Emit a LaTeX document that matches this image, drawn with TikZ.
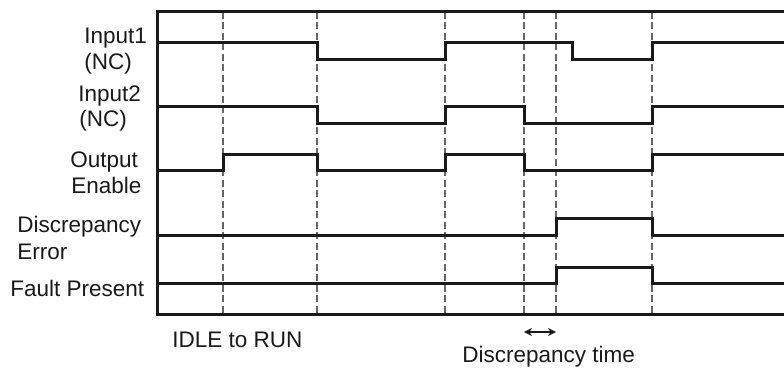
\documentclass[tikz,border=0pt]{standalone}
\usepackage{fontspec}
\setmainfont{Liberation Sans}
\usetikzlibrary{arrows.meta}
\begin{document}
\begin{tikzpicture}[x=0.5pt,y=-0.5pt,
  sig/.style={line width=1.5pt,draw=black!90},
  gridline/.style={line width=0.55pt,draw=black!60,dash pattern=on 3.5pt off 1.75pt},
  lbl/.style={anchor=base west,inner sep=0pt,text=black!90,font=\fontsize{11.25}{13}\selectfont}]
\useasboundingbox (0,0) rectangle (784,368);
% dashed time markers
\foreach \x/\n in {223/a,317/b,445/c,524/d,556/e,652/f}{
  \coordinate (t\n top) at (\x,12);
  \coordinate (t\n bot) at (\x,315);
  \draw[gridline] (t\n top) -- (t\n bot);
}
% frame
\draw[sig] (784,12) -- (157,12) -- (157,315) -- (784,315);
% Input1
\draw[sig] (157,43) -- (317,43) -- (317,60) -- (445,60) -- (445,43) -- (572,43) -- (572,60) -- (652,60) -- (652,43) -- (784,43);
% Input2
\draw[sig] (157,107) -- (317,107) -- (317,124) -- (445,124) -- (445,107) -- (524,107) -- (524,124) -- (652,124) -- (652,107) -- (784,107);
% Output Enable
\draw[sig] (157,171) -- (223,171) -- (223,155) -- (317,155) -- (317,171) -- (445,171) -- (445,155) -- (524,155) -- (524,171) -- (652,171) -- (652,155) -- (784,155);
% Discrepancy Error
\draw[sig] (157,236) -- (556,236) -- (556,219) -- (652,219) -- (652,236) -- (784,236);
% Fault Present
\draw[sig] (157,284) -- (556,284) -- (556,268) -- (652,268) -- (652,284) -- (784,284);
% labels
\node[lbl] (in1a) at (84,44) {Input1};
\node[lbl] (in1b) at (84,70) {(NC)};
\node[lbl] (in2a) at (78,102) {Input2};
\node[lbl] (in2b) at (79,127) {(NC)};
\node[lbl] (oea) at (70,168) {Output};
\node[lbl] (oeb) at (71,194) {Enable};
\node[lbl] (dea) at (17,233) {Discrepancy};
\node[lbl] (deb) at (17,260) {Error};
\node[lbl] (fp) at (10,297) {Fault Present};
\node[lbl] (idle) at (172,348) {IDLE to RUN};
\node[lbl] (dt) at (462,363) {Discrepancy time};
% discrepancy time arrow
\coordinate (dl) at (524,332);
\coordinate (dr) at (556,332);
\draw[line width=0.8pt,draw=black!90,{Stealth[length=4pt,width=4pt]}-{Stealth[length=4pt,width=4pt]}] (dl) -- (dr);
\end{tikzpicture}
\end{document}
